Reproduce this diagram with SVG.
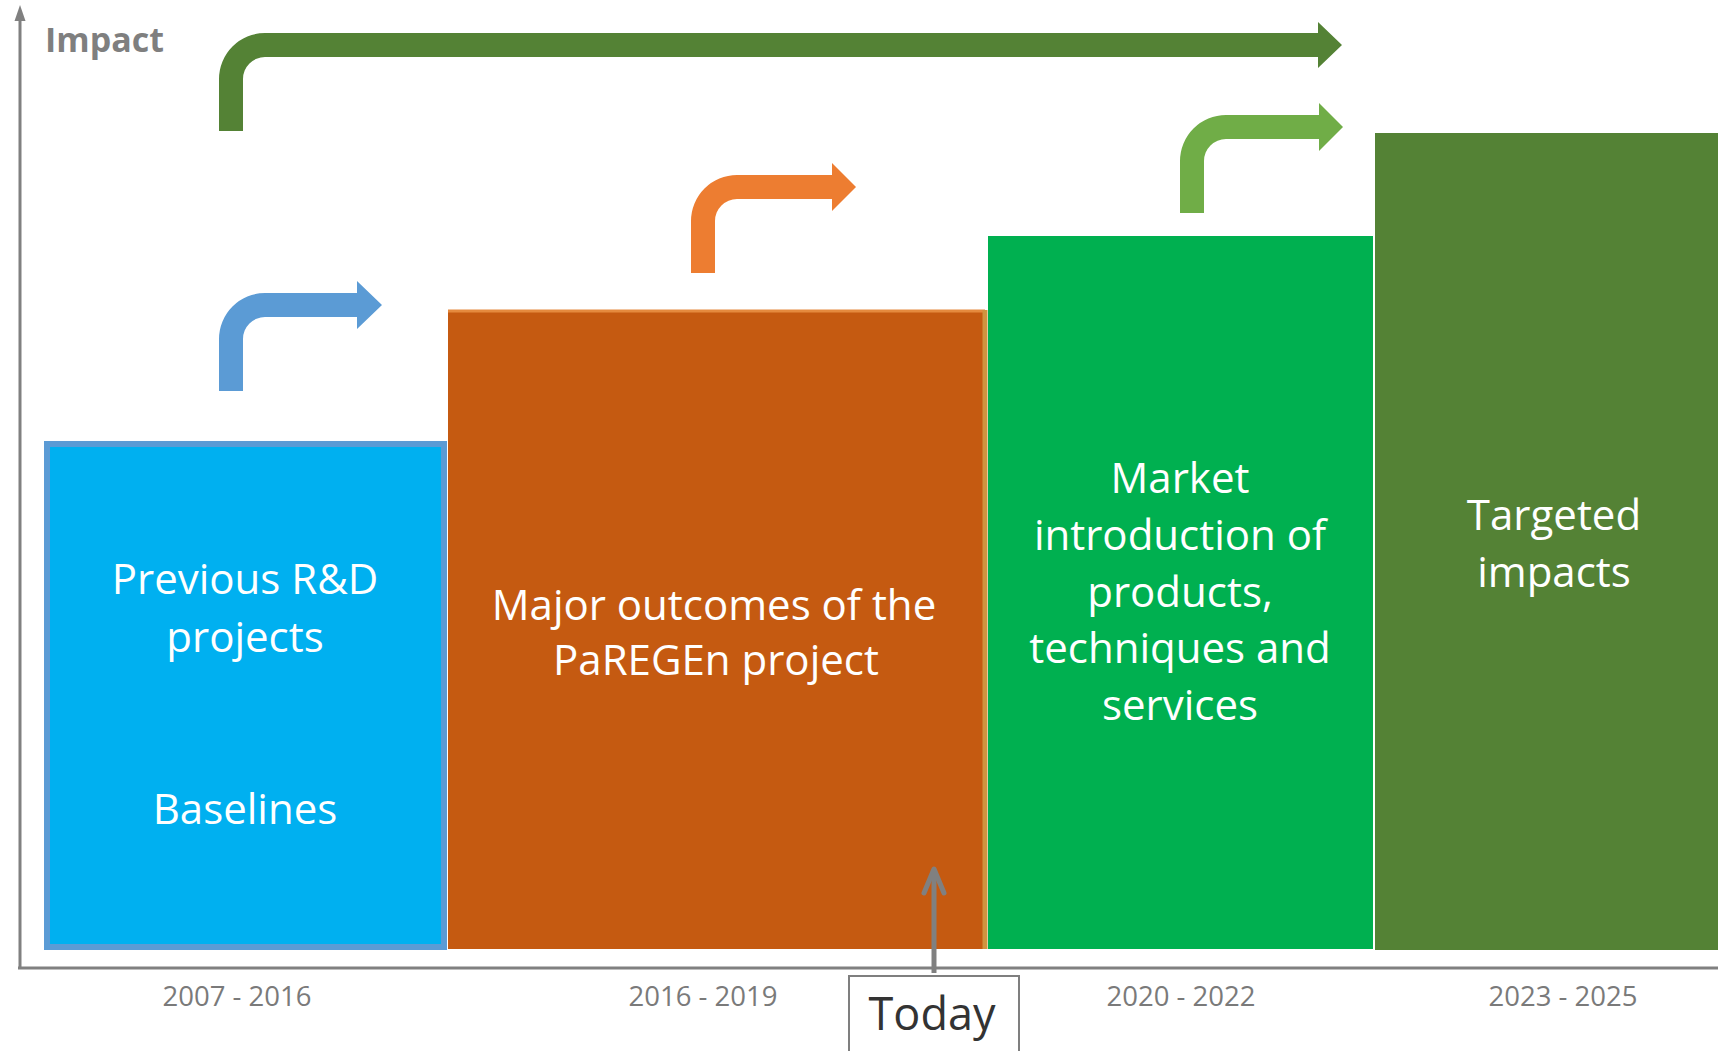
<svg xmlns="http://www.w3.org/2000/svg" width="1718" height="1051" viewBox="0 0 1718 1051">
<style>
.box-text{font-family:"Open Sans","Liberation Sans",sans-serif;font-size:42px;fill:#ffffff;text-anchor:middle}
.year{font-family:"Open Sans","Liberation Sans",sans-serif;font-size:27.5px;fill:#7a7a7a;text-anchor:middle}
.axis{stroke:#808080;stroke-width:3;fill:none}
</style>
<rect width="1718" height="1051" fill="#ffffff"/>
<g id="axes">
<line class="axis" x1="20" y1="968" x2="20" y2="16"/>
<polygon points="20,5 14.5,21 25.5,21" fill="#808080"/>
<line class="axis" x1="18" y1="968" x2="1718" y2="968"/>
<text x="45" y="52" font-family="'Open Sans','Liberation Sans',sans-serif" font-size="34" font-weight="bold" fill="#7f7f7f">Impact</text>
</g>
<g id="node-baselines">
<rect x="47" y="444" width="397" height="503" fill="#00B0F0" stroke="#5B9BD5" stroke-width="6"/>
<text class="box-text" x="245" y="594">Previous R&amp;D</text>
<text class="box-text" x="245" y="652">projects</text>
<text class="box-text" x="245" y="824">Baselines</text>
</g>
<g id="node-paregen">
<rect x="448" y="310" width="537" height="639" fill="#C55A11"/>
<line x1="448" y1="311" x2="985" y2="311" stroke="#E58A3E" stroke-width="3"/>
<line x1="985" y1="310" x2="985" y2="949" stroke="#D0943F" stroke-width="5"/>
<text class="box-text" x="714" y="620">Major outcomes of the</text>
<text class="box-text" x="716" y="675">PaREGEn project</text>
</g>
<g id="node-market">
<rect x="988" y="236" width="385" height="713" fill="#00B050"/>
<text class="box-text" x="1180" y="493">Market</text>
<text class="box-text" x="1180" y="550">introduction of</text>
<text class="box-text" x="1180" y="607">products,</text>
<text class="box-text" x="1180" y="663">techniques and</text>
<text class="box-text" x="1180" y="720">services</text>
</g>
<g id="node-targeted">
<rect x="1375" y="133" width="343" height="817" fill="#548235"/>
<text class="box-text" x="1554" y="530">Targeted</text>
<text class="box-text" x="1554" y="587">impacts</text>
</g>
<g id="years">
<text class="year" x="237" y="1006">2007 - 2016</text>
<text class="year" x="703" y="1006">2016 - 2019</text>
<text class="year" x="1181" y="1006">2020 - 2022</text>
<text class="year" x="1563" y="1006">2023 - 2025</text>
</g>
<g id="node-today">
<rect x="849" y="976" width="170" height="90" fill="#ffffff" stroke="#7f7f7f" stroke-width="2"/>
<text x="932" y="1030" font-family="'Open Sans','Liberation Sans',sans-serif" font-size="45" fill="#333333" text-anchor="middle">Today</text>
</g>
<g id="connectors">
<path d="M219,391 V339 A46,46 0 0 1 265,293 H357 V281 L382,305 L357,329 V317 H265 A22,22 0 0 0 243,339 V391 Z" fill="#5B9BD5"/>
<path d="M691,273 V221 A46,46 0 0 1 737,175 H832 V163 L856,187 L832,211 V199 H737 A22,22 0 0 0 715,221 V273 Z" fill="#ED7D31"/>
<path d="M1180,213 V161 A46,46 0 0 1 1226,115 H1319 V103 L1343,127 L1319,151 V139 H1226 A22,22 0 0 0 1204,161 V213 Z" fill="#70AD47"/>
<path d="M219,131 V79 A46,46 0 0 1 265,33 H1318 V22 L1342,45 L1318,68 V57 H265 A22,22 0 0 0 243,79 V131 Z" fill="#548235"/>
<line x1="934" y1="973" x2="934" y2="870" stroke="#808080" stroke-width="5"/>
<polyline points="924,893 934,869 944,893" fill="none" stroke="#808080" stroke-width="5" stroke-linecap="round" stroke-linejoin="round"/>
</g>
</svg>
